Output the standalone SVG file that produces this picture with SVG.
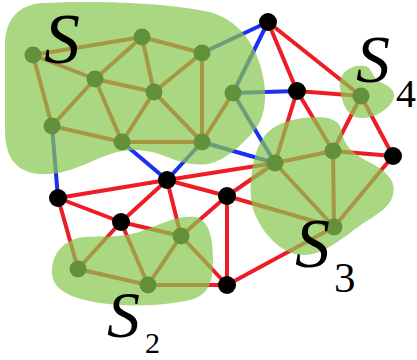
<svg xmlns="http://www.w3.org/2000/svg" width="417" height="360" viewBox="0 0 417 360">
<style>
.e{stroke:#ee1c25;stroke-width:4;stroke-linecap:round;fill:none}
.b{stroke:#1f2ff0;stroke-width:4;stroke-linecap:round;fill:none}
.n{fill:#000}
.blob{fill:#89c751;fill-opacity:0.72;stroke:none}
.lab{font-family:"Liberation Serif","DejaVu Serif",serif;font-style:italic;fill:#000}
.sub{font-family:"Liberation Serif","DejaVu Serif",serif;fill:#000}
</style>
<rect width="417" height="360" fill="#fff"/>
<g id="connectors">
<line class="e" x1="33" y1="55" x2="142" y2="37"/>
<line class="e" x1="33" y1="55" x2="95" y2="79"/>
<line class="e" x1="33" y1="55" x2="52" y2="126"/>
<line class="e" x1="142" y1="37" x2="95" y2="79"/>
<line class="e" x1="142" y1="37" x2="202" y2="53"/>
<line class="e" x1="142" y1="37" x2="154" y2="92"/>
<line class="e" x1="95" y1="79" x2="154" y2="92"/>
<line class="e" x1="95" y1="79" x2="52" y2="126"/>
<line class="e" x1="95" y1="79" x2="122" y2="142"/>
<line class="e" x1="154" y1="92" x2="202" y2="53"/>
<line class="e" x1="154" y1="92" x2="122" y2="142"/>
<line class="e" x1="154" y1="92" x2="202" y2="142"/>
<line class="e" x1="202" y1="53" x2="202" y2="142"/>
<line class="e" x1="52" y1="126" x2="122" y2="142"/>
<line class="e" x1="122" y1="142" x2="202" y2="142"/>
<line class="e" x1="233" y1="93" x2="202" y2="142"/>
<line class="e" x1="268" y1="22" x2="297" y2="91"/>
<line class="e" x1="268" y1="22" x2="361" y2="96"/>
<line class="e" x1="297" y1="91" x2="361" y2="96"/>
<line class="e" x1="297" y1="91" x2="275" y2="163"/>
<line class="e" x1="297" y1="91" x2="333" y2="151"/>
<line class="e" x1="361" y1="96" x2="333" y2="151"/>
<line class="e" x1="361" y1="96" x2="393" y2="156"/>
<line class="e" x1="333" y1="151" x2="393" y2="156"/>
<line class="e" x1="393" y1="156" x2="334" y2="227"/>
<line class="e" x1="275" y1="163" x2="333" y2="151"/>
<line class="e" x1="275" y1="163" x2="334" y2="227"/>
<line class="e" x1="333" y1="151" x2="334" y2="227"/>
<line class="e" x1="167" y1="180" x2="58" y2="198"/>
<line class="e" x1="167" y1="180" x2="121" y2="222"/>
<line class="e" x1="167" y1="180" x2="227" y2="196"/>
<line class="e" x1="167" y1="180" x2="275" y2="163"/>
<line class="e" x1="167" y1="180" x2="181" y2="236"/>
<line class="e" x1="58" y1="198" x2="121" y2="222"/>
<line class="e" x1="58" y1="198" x2="78" y2="269"/>
<line class="e" x1="121" y1="222" x2="78" y2="269"/>
<line class="e" x1="121" y1="222" x2="148" y2="285"/>
<line class="e" x1="121" y1="222" x2="181" y2="236"/>
<line class="e" x1="78" y1="269" x2="148" y2="285"/>
<line class="e" x1="148" y1="285" x2="181" y2="236"/>
<line class="e" x1="148" y1="285" x2="227" y2="285"/>
<line class="e" x1="181" y1="236" x2="227" y2="285"/>
<line class="e" x1="227" y1="196" x2="227" y2="285"/>
<line class="e" x1="227" y1="196" x2="275" y2="163"/>
<line class="e" x1="227" y1="196" x2="334" y2="227"/>
<line class="e" x1="227" y1="196" x2="181" y2="236"/>
<line class="e" x1="227" y1="285" x2="334" y2="227"/>
<line class="b" x1="202" y1="53" x2="268" y2="22"/>
<line class="b" x1="233" y1="93" x2="268" y2="22"/>
<line class="b" x1="233" y1="93" x2="297" y2="91"/>
<line class="b" x1="233" y1="93" x2="275" y2="163"/>
<line class="b" x1="202" y1="142" x2="275" y2="163"/>
<line class="b" x1="202" y1="142" x2="167" y2="180"/>
<line class="b" x1="122" y1="142" x2="167" y2="180"/>
<line class="b" x1="52" y1="126" x2="58" y2="198"/>
</g>
<g id="nA"><circle class="n" cx="33" cy="55" r="8.5"/></g>
<g id="nB"><circle class="n" cx="142" cy="37" r="8.5"/></g>
<g id="nC"><circle class="n" cx="202" cy="53" r="8.5"/></g>
<g id="nD"><circle class="n" cx="95" cy="79" r="8.5"/></g>
<g id="nE"><circle class="n" cx="154" cy="92" r="8.5"/></g>
<g id="nF"><circle class="n" cx="52" cy="126" r="8.5"/></g>
<g id="nG"><circle class="n" cx="122" cy="142" r="8.5"/></g>
<g id="nH"><circle class="n" cx="202" cy="142" r="8.5"/></g>
<g id="nI"><circle class="n" cx="233" cy="93" r="8.5"/></g>
<g id="nR"><circle class="n" cx="361" cy="96" r="8.5"/></g>
<g id="nT1"><circle class="n" cx="275" cy="163" r="8.5"/></g>
<g id="nT2"><circle class="n" cx="333" cy="151" r="8.5"/></g>
<g id="nT3"><circle class="n" cx="334" cy="227" r="8.5"/></g>
<g id="nU1"><circle class="n" cx="78" cy="269" r="8.5"/></g>
<g id="nU2"><circle class="n" cx="148" cy="285" r="8.5"/></g>
<g id="nU3"><circle class="n" cx="181" cy="236" r="8.5"/></g>
<g id="nJ"><circle class="n" cx="268" cy="22" r="9"/></g>
<g id="nK"><circle class="n" cx="297" cy="91" r="9"/></g>
<g id="nL"><circle class="n" cx="393" cy="156" r="9"/></g>
<g id="nM"><circle class="n" cx="167" cy="180" r="9"/></g>
<g id="nN"><circle class="n" cx="227" cy="196" r="9"/></g>
<g id="nO"><circle class="n" cx="58" cy="198" r="9"/></g>
<g id="nP"><circle class="n" cx="121" cy="222" r="9"/></g>
<g id="nQ"><circle class="n" cx="227" cy="285" r="9"/></g>
<g id="regions">
<path id="regionS" class="blob" d="M 5,45 C 5,20 18,5 42,3 C 100,0 170,3 210,12 C 245,22 262,55 265,90 C 266,108 262,122 253,132 C 243,143 232,155 215,162 C 200,167 185,164 170,158 C 155,152 145,150 133,150 C 105,150 80,172 50,174 C 18,176 5,160 5,130 Z"/>
<path id="regionS2" class="blob" d="M 52,272 C 52,250 68,238 85,237 C 105,236 125,238 145,230 C 165,222 180,215 195,217 C 210,220 213,240 213,260 C 213,280 210,295 190,300 C 165,306 125,307 100,303 C 75,299 52,292 52,272 Z"/>
<path id="regionS3" class="blob" d="M 262,140 C 270,125 290,118 315,117 C 330,117 340,120 342,132 C 344,145 352,153 367,161 C 385,170 397,180 393,195 C 390,207 378,214 362,224 C 340,240 322,256 302,255 C 280,254 262,232 254,212 C 247,192 252,155 262,140 Z"/>
<path id="regionS4" class="blob" d="M 340,88 C 338,72 352,64 365,66 C 372,67 372,78 380,82 C 390,86 397,92 393,100 C 388,110 375,118 362,118 C 348,118 342,105 340,88 Z"/>
</g>
<g id="labels">
<text class="lab" x="44" y="63" font-size="72">S</text>
<text class="lab" x="107" y="337" font-size="66">S</text>
<text class="sub" x="145" y="353" font-size="30">2</text>
<text class="lab" x="295" y="267" font-size="70">S</text>
<text class="sub" x="334" y="292" font-size="43">3</text>
<text class="lab" x="356" y="82" font-size="68">S</text>
<text class="sub" x="396" y="107" font-size="40">4</text>
</g>
</svg>
